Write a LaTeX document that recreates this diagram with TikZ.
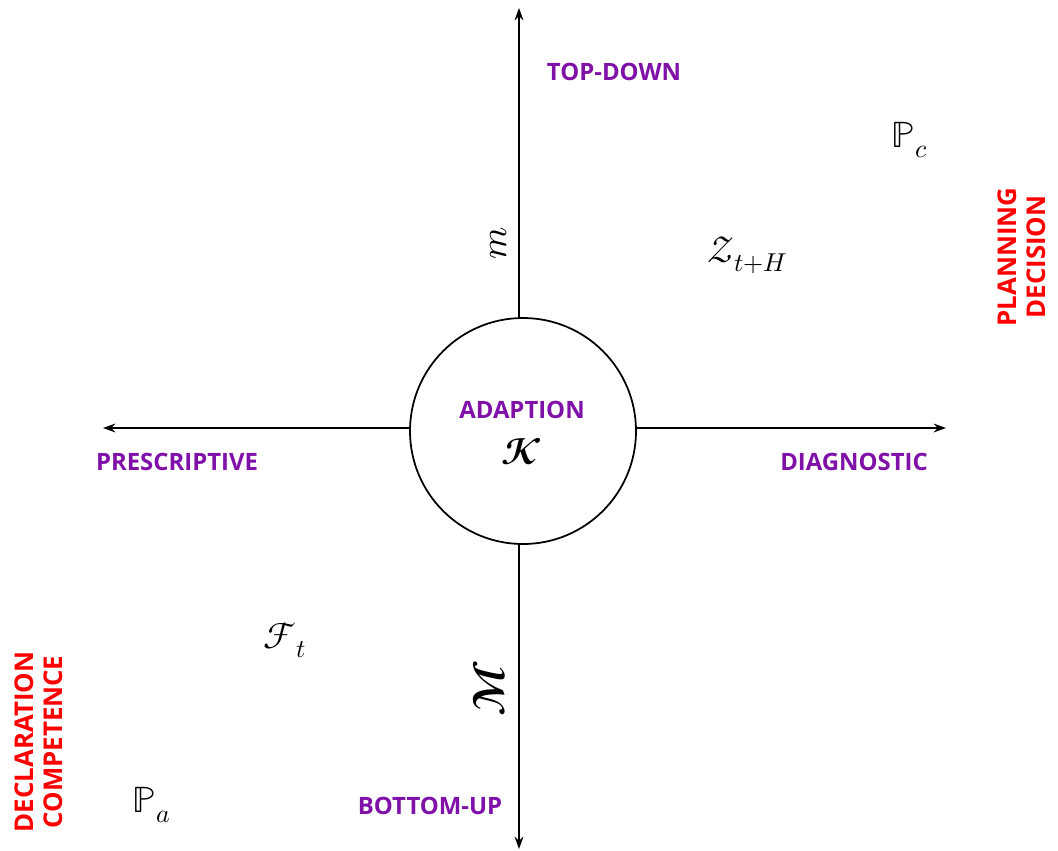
\documentclass[tikz,border=0pt]{standalone}
\usepackage{fontspec}
\usepackage{unicode-math}
\setmainfont{Open Sans}
\setmathfont{Latin Modern Math}
\usetikzlibrary{arrows.meta,positioning}
\definecolor{labpurple}{HTML}{7F10A8}
\definecolor{labred}{HTML}{FF0000}
\tikzset{
  axislab/.style={text=labpurple,font=\fontsize{13.6}{16}\selectfont\bfseries},
  sidelab/.style={text=labred,font=\fontsize{14.7}{16.5}\selectfont\bfseries,rotate=90,align=center},
  sym/.style={font=\fontsize{21}{23}\selectfont}
}

\begin{document}
\begin{tikzpicture}[x=0.02cm,y=-0.02cm,>={Stealth[length=7pt,width=5pt]}]
  \useasboundingbox (0,0) rectangle (1058,850);

  % Centre circle
  \node[draw,circle,line width=1pt,minimum size=226*0.02cm,inner sep=0pt] (k) at (523,431) {};
  \node[axislab] (adapt) at (522,410) {ADAPTION};
  \node[sym,font=\fontsize{21}{23}\selectfont] (kk) at (522,452) {$\mathbfcal{K}$};

  % Axes
  \coordinate (top) at (519,8);
  \coordinate (bot) at (519,849);
  \coordinate (lft) at (103,428);
  \coordinate (rgt) at (946,428);
  \draw[->,line width=1pt] (k.north -| top) -- (top);
  \draw[->,line width=1pt] (k.south -| bot) -- (bot);
  \draw[->,line width=1pt] (k.west |- lft) -- (lft);
  \draw[->,line width=1pt] (k.east |- rgt) -- (rgt);

  % Axis labels
  \node[axislab] (td) at (614,72) {TOP-DOWN};
  \node[axislab] (bu) at (430,806) {BOTTOM-UP};
  \node[axislab] (pre) at (177,462) {PRESCRIPTIVE};
  \node[axislab] (dia) at (854,462) {DIAGNOSTIC};
  \node[sym,rotate=90] (m) at (499,243) {$\mathcal{m}$};
  \node[sym,rotate=90,font=\fontsize{25}{27}\selectfont] (mm) at (489,688) {$\mathbfcal{M}$};

  % Quadrant symbols
  \node[sym] (pc) at (910,140) {$\mathbb{P}_c$};
  \node[sym] (z) at (748,255) {$\mathcal{Z}_{t+H}$};
  \node[sym] (f) at (285,640) {$\mathcal{F}_t$};
  \node[sym] (pa) at (152,805) {$\mathbb{P}_a$};

  % Side notes
  \node[sidelab] (plan) at (1022,257) {PLANNING\\DECISION};
  \node[sidelab] (decl) at (39,742) {DECLARATION\\COMPETENCE};
\end{tikzpicture}
\end{document}
